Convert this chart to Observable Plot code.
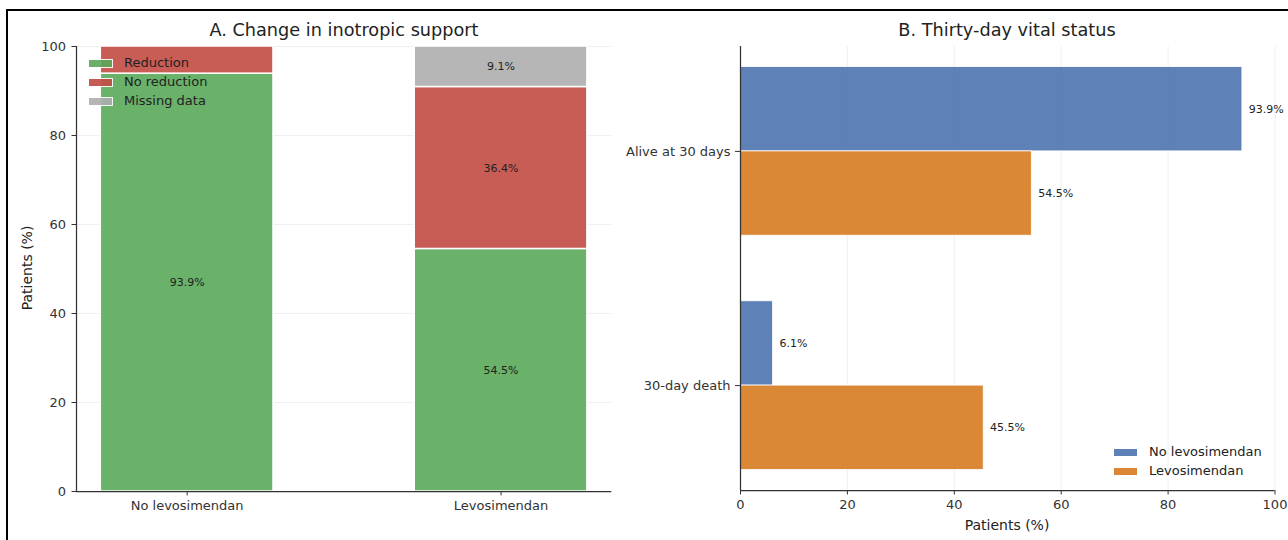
<!DOCTYPE html>
<html>
<head>
<meta charset="utf-8">
<script src="https://cdn.jsdelivr.net/npm/d3@7"></script>
<script src="https://cdn.jsdelivr.net/npm/@observablehq/plot@0.6"></script>
<style>
  html, body { margin: 0; padding: 0; background: white; overflow: hidden; }
  #root { position: relative; width: 1288px; height: 540px; font-family: "DejaVu Sans", sans-serif; color: #222; }
  .abs { position: absolute; }
  .title { font-size: 17.7px; line-height: 22px; text-align: center; white-space: nowrap; color: #222; }
  .lab { font-size: 14px; line-height: 18px; white-space: nowrap; color: #222; }
  .leg { font-size: 13px; line-height: 16px; white-space: nowrap; color: #222; }
  .sw { position: absolute; width: 25px; height: 9px; box-sizing: border-box; border: 1px solid white; }
  #frame { position: absolute; left: 6px; top: 9px; width: 1400px; height: 700px; border-left: 2px solid #000; border-top: 2px solid #000; }
</style>
</head>
<body>
<div id="root"></div>
<script>
// ---------- Data ----------
const groups = ["No levosimendan", "Levosimendan"];
const seriesA = ["Reduction", "No reduction", "Missing data"];
const reduction = [93.9, 54.5];
const noReduction = [6.1, 36.4];
const missingData = [0, 9.1];
const colorsA = ["#5aa85a", "#c24b44", "#aeaeae"];

const statusCats = ["Alive at 30 days", "30-day death"];
const seriesB = ["No levosimendan", "Levosimendan"];
const noLevo = [93.9, 6.1];
const levo = [54.5, 45.5];
const colorsB = ["#4c73b0", "#d67a20"];

const yTicksA = [0, 20, 40, 60, 80, 100];
const xTicksB = [0, 20, 40, 60, 80, 100];

// ---------- Build tables ----------
const barW = 0.55;
const segA = [];
groups.forEach((g, i) => {
  const vals = [reduction[i], noReduction[i], missingData[i]];
  let acc = 0;
  vals.forEach((v, k) => {
    if (v > 0) segA.push({group: g, xi: i, series: seriesA[k], value: v, y1: acc, y2: acc + v});
    acc += v;
  });
});

const barH = 0.36;
const segB = [];
statusCats.forEach((c, j) => {
  const pos = statusCats.length - 1 - j; // top category first
  [noLevo[j], levo[j]].forEach((v, k) => {
    const center = pos + (k === 0 ? barH / 2 : -barH / 2);
    segB.push({cat: c, pos, series: seriesB[k], value: v, yc: center, y1: center - barH / 2, y2: center + barH / 2});
  });
});

const root = document.getElementById("root");
const style = {fontFamily: "DejaVu Sans, sans-serif", fontSize: "13px", color: "#333", background: "transparent", overflow: "visible"};

// ---------- Panel A ----------
const xDomA = [-0.3525, 1.3525];
const plotA = Plot.plot({
  width: 640, height: 540,
  marginLeft: 76, marginRight: 28.8, marginTop: 46, marginBottom: 49,
  style,
  x: {domain: xDomA, axis: null},
  y: {domain: [0, 100], axis: null},
  color: {domain: seriesA, range: colorsA},
  marks: [
    Plot.ruleY(yTicksA, {stroke: "#ebebeb", strokeWidth: 0.8}),
    Plot.rect(segA, {x1: d => d.xi - barW / 2, x2: d => d.xi + barW / 2, y1: "y1", y2: "y2", fill: "series", fillOpacity: 0.9, stroke: "white", strokeWidth: 1.5}),
    Plot.text(segA.filter(d => d.value >= 8), {x: "xi", y: d => (d.y1 + d.y2) / 2, text: d => d.value.toFixed(1) + "%", fontSize: 11, fill: "#222"}),
    Plot.ruleX([xDomA[0]], {y1: 0, y2: 100, stroke: "#333", strokeWidth: 1.25}),
    Plot.ruleY([0], {x1: xDomA[0], x2: xDomA[1], stroke: "#333", strokeWidth: 1.25}),
    Plot.axisY({ticks: yTicksA, tickSize: 4.5, tickPadding: 6, label: null, tickFormat: d => String(d), stroke: "#333"}),
    Plot.axisX({ticks: [0, 1], tickSize: 4.5, tickPadding: 5, label: null, tickFormat: i => groups[i], stroke: "#333"})
  ]
});
plotA.style.position = "absolute";
plotA.style.left = "0px";
plotA.style.top = "0px";
root.appendChild(plotA);

// ---------- Panel B ----------
const yDomB = [-0.448, 1.448];
const plotB = Plot.plot({
  width: 648, height: 540,
  marginLeft: 100, marginRight: 13.5, marginTop: 46, marginBottom: 50,
  style,
  x: {domain: [0, 100], axis: null},
  y: {domain: yDomB, axis: null},
  color: {domain: seriesB, range: colorsB},
  marks: [
    Plot.ruleX(xTicksB, {stroke: "#ebebeb", strokeWidth: 0.8}),
    Plot.rect(segB, {x1: 0, x2: "value", y1: "y1", y2: "y2", fill: "series", fillOpacity: 0.9, stroke: "white", strokeWidth: 0.8}),
    Plot.text(segB, {x: d => d.value + 1.2, y: "yc", text: d => d.value.toFixed(1) + "%", textAnchor: "start", fontSize: 11, fill: "#222"}),
    Plot.ruleX([0], {y1: yDomB[0], y2: yDomB[1], stroke: "#333", strokeWidth: 1.25}),
    Plot.ruleY([yDomB[0]], {x1: 0, x2: 100, stroke: "#333", strokeWidth: 1.25}),
    Plot.axisY({ticks: statusCats.map((c, j) => statusCats.length - 1 - j), tickSize: 5, tickPadding: 5, label: null, tickFormat: p => statusCats[statusCats.length - 1 - p], stroke: "#333"}),
    Plot.axisX({ticks: xTicksB, tickSize: 4.5, tickPadding: 5, label: null, tickFormat: d => String(d), stroke: "#333"})
  ]
});
plotB.style.position = "absolute";
plotB.style.left = "640px";
plotB.style.top = "0px";
root.appendChild(plotB);

// ---------- Titles & labels ----------
function addDiv(cls, text, css) {
  const d = document.createElement("div");
  d.className = "abs " + cls;
  d.textContent = text;
  Object.assign(d.style, css);
  root.appendChild(d);
  return d;
}
addDiv("title", "A. Change in inotropic support", {left: "144px", width: "400px", top: "19px"});
addDiv("title", "B. Thirty-day vital status", {left: "807px", width: "400px", top: "19px"});
addDiv("lab", "Patients (%)", {left: "-73px", width: "200px", top: "259px", textAlign: "center", transform: "rotate(-90deg)"});
addDiv("lab", "Patients (%)", {left: "907px", width: "200px", top: "516px", textAlign: "center"});

// ---------- Legends ----------
function legend(items, colors, x, y0, step, textX) {
  items.forEach((t, i) => {
    const cy = y0 + i * step;
    const sw = document.createElement("div");
    sw.className = "sw";
    Object.assign(sw.style, {left: x + "px", top: (cy - 4.5) + "px", background: colors[i], opacity: 0.9});
    root.appendChild(sw);
    addDiv("leg", t, {left: textX + "px", top: (cy - 8) + "px"});
  });
}
legend(seriesA, colorsA, 88, 63, 19.2, 124);
legend(seriesB, colorsB, 1113, 452, 19.2, 1149);

// ---------- Frame ----------
const fr = document.createElement("div");
fr.id = "frame";
root.appendChild(fr);
</script>
</body>
</html>
